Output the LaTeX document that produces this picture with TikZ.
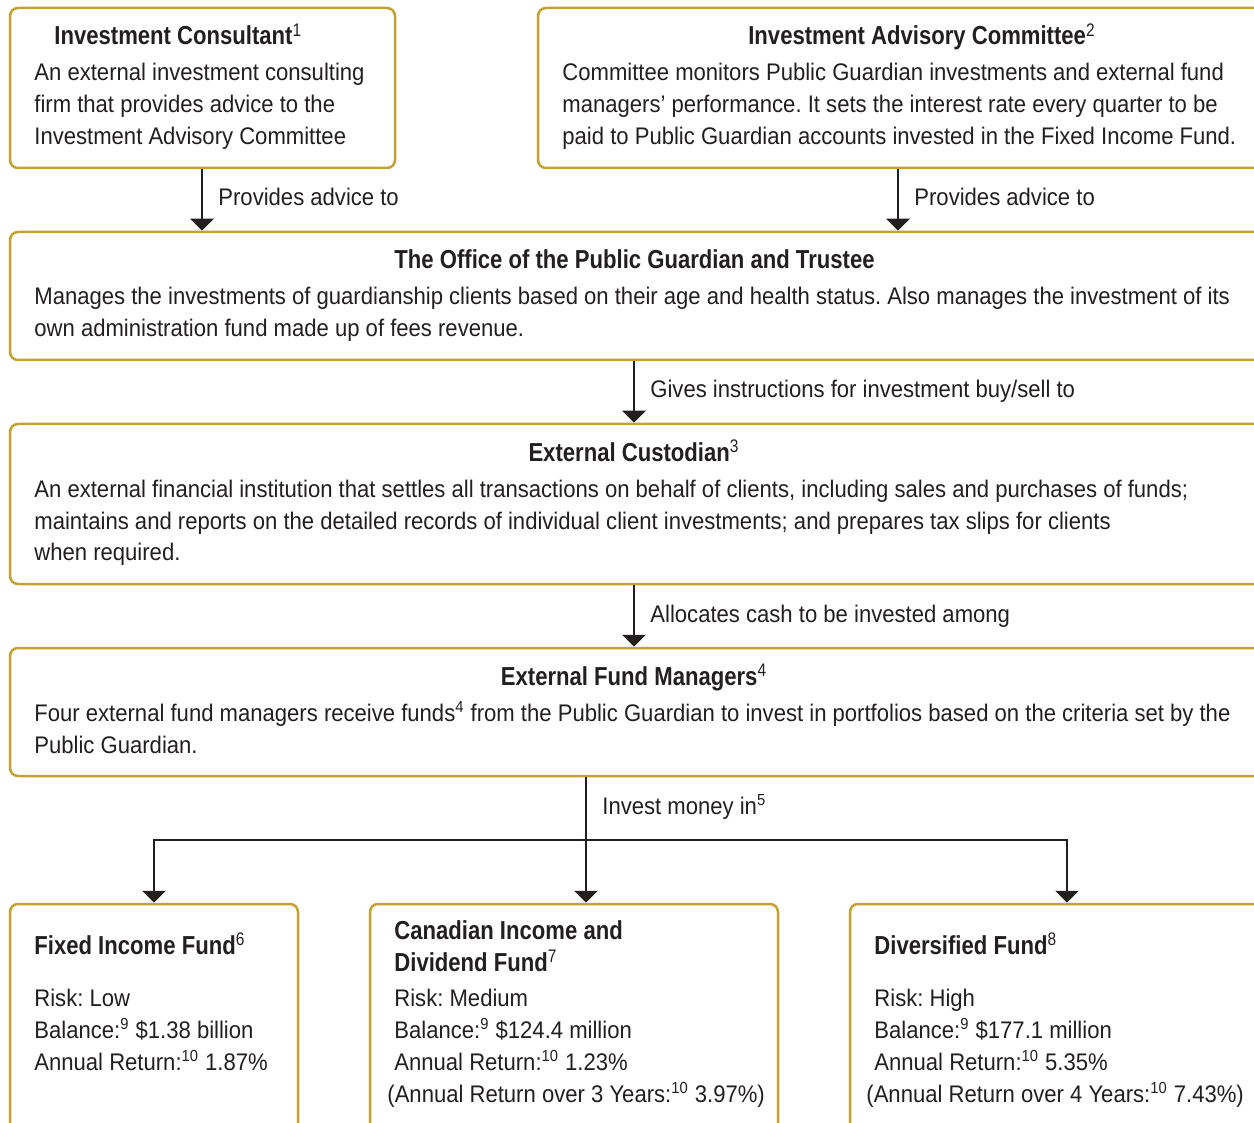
\documentclass[tikz,border=0pt]{standalone}
\usepackage{fontspec}
\setmainfont{Liberation Sans}[FakeStretch=0.92]
\newfontfamily\ttlfamily{Liberation Sans}[FakeStretch=0.85]
\usetikzlibrary{arrows.meta}
\definecolor{gold}{HTML}{C4A035}
\definecolor{ink}{HTML}{231F20}
\newcommand\bodyfont{\fontsize{12}{16}\selectfont}
\newcommand\titlefont{\ttlfamily\bfseries\fontsize{13}{16}\selectfont}
\newcommand\sps[1]{\textsuperscript{\mdseries #1}}
\newcommand\mlines[1]{\begin{tabular}[t]{@{}l@{}}#1\end{tabular}}
\frenchspacing
\begin{document}
\begin{tikzpicture}[x=0.5pt,y=-0.5pt,
  box/.style={draw=gold, line width=1.25pt, rounded corners=4pt, fill=white, inner sep=0pt},
  arr/.style={draw=ink, line width=1.25pt, -{Triangle[width=11.5pt,length=6pt]}},
  plain/.style={draw=ink, line width=1.25pt},
  txt/.style={inner sep=0pt, text=ink, font=\bodyfont, anchor=base west},
  ttl/.style={inner sep=0pt, text=ink, font=\titlefont, anchor=base}]
\clip (0,0) rectangle (1254,1123);
\fill[white] (0,0) rectangle (1254,1123);

% boxes
\node[box, minimum width=192.5pt, minimum height=80pt] (ic) at (202.5,88) {};
\node[box, minimum width=366pt, minimum height=80pt] (iac) at (904,88) {};
\node[box, minimum width=630pt, minimum height=64pt] (opgt) at (640,296) {};
\node[box, minimum width=630pt, minimum height=80pt] (ec) at (640,504) {};
\node[box, minimum width=630pt, minimum height=64pt] (efm) at (640,712) {};
\node[box, minimum width=144pt, minimum height=118pt] (fif) at (154,1022) {};
\node[box, minimum width=204pt, minimum height=118pt] (cid) at (574,1022) {};
\node[box, minimum width=210pt, minimum height=118pt] (df) at (1060,1022) {};

% texts
\node[ttl, anchor=base west] (ict) at (54,45) {Investment Consultant\sps{1}};
\node[txt] (icb) at (34,81) {\mlines{An external investment consulting\\firm that provides advice to the\\Investment Advisory Committee}};

\node[ttl] (iact) at (922,45) {Investment Advisory Committee\sps{2}};
\node[txt] (iacb) at (562,81) {\mlines{Committee monitors Public Guardian investments and external fund\\managers’ performance. It sets the interest rate every quarter to be\\paid to Public Guardian accounts invested in the Fixed Income Fund.}};

\node[ttl] (opgtt) at (634.5,269) {The Office of the Public Guardian and Trustee};
\node[txt] (opgtb) at (34,305) {\mlines{Manages the investments of guardianship clients based on their age and health status. Also manages the investment of its\\own administration fund made up of fees revenue.}};

\node[ttl] (ect) at (634,461) {External Custodian\sps{3}};
\node[txt] (ecb) at (34,497) {\mlines{An external financial institution that settles all transactions on behalf of clients, including sales and purchases of funds;\\maintains and reports on the detailed records of individual client investments; and prepares tax slips for clients\\when required.}};

\node[ttl] (efmt) at (634,685) {External Fund Managers\sps{4}};
\node[txt] (efmb) at (34,721) {\mlines{Four external fund managers receive funds\sps{4} from the Public Guardian to invest in portfolios based on the criteria set by the\\Public Guardian.}};

\node[ttl, anchor=base west] (fift) at (34,954) {Fixed Income Fund\sps{6}};
\node[txt] (fifb) at (34,1006) {\mlines{Risk: Low\\Balance:\sps{9} \$1.38 billion\\Annual Return:\sps{10} 1.87\%}};

\node[ttl, anchor=base west] (cidt) at (394,939) {\mlines{Canadian Income and\\Dividend Fund\sps{7}}};
\node[txt] (cidb) at (394,1006) {\mlines{Risk: Medium\\Balance:\sps{9} \$124.4 million\\Annual Return:\sps{10} 1.23\%\\\hspace*{-3.5pt}(Annual Return over 3 Years:\sps{10} 3.97\%)}};

\node[ttl, anchor=base west] (dft) at (874,954) {Diversified Fund\sps{8}};
\node[txt] (dfb) at (874,1006) {\mlines{Risk: High\\Balance:\sps{9} \$177.1 million\\Annual Return:\sps{10} 5.35\%\\\hspace*{-4pt}(Annual Return over 4 Years:\sps{10} 7.43\%)}};

% connector labels
\node[txt] (l1) at (218,206) {Provides advice to};
\node[txt] (l2) at (914,206) {Provides advice to};
\node[txt] (l3) at (650,398) {Gives instructions for investment buy/sell to};
\node[txt] (l4) at (650,622) {Allocates cash to be invested among};
\node[txt] (l5) at (602,814) {Invest money in\sps{5}};

% connectors
\coordinate (c1) at (202,0);
\coordinate (c2) at (898,0);
\coordinate (c3) at (634,0);
\coordinate (c5) at (586,840);
\coordinate (fl) at (154,840);
\coordinate (fr) at (1067,840);
\draw[arr] (ic.south -| c1) -- (opgt.north -| c1);
\draw[arr] (iac.south -| c2) -- (opgt.north -| c2);
\draw[arr] (opgt.south -| c3) -- (ec.north -| c3);
\draw[arr] (ec.south -| c3) -- (efm.north -| c3);
\draw[arr] (efm.south -| c5) -- (cid.north -| c5);
\draw[plain] ([xshift=-0.6pt]fl) -- ([xshift=0.6pt]fr);
\draw[arr] (fl) -- (fif.north -| fl);
\draw[arr] (fr) -- (df.north -| fr);
\end{tikzpicture}
\end{document}
